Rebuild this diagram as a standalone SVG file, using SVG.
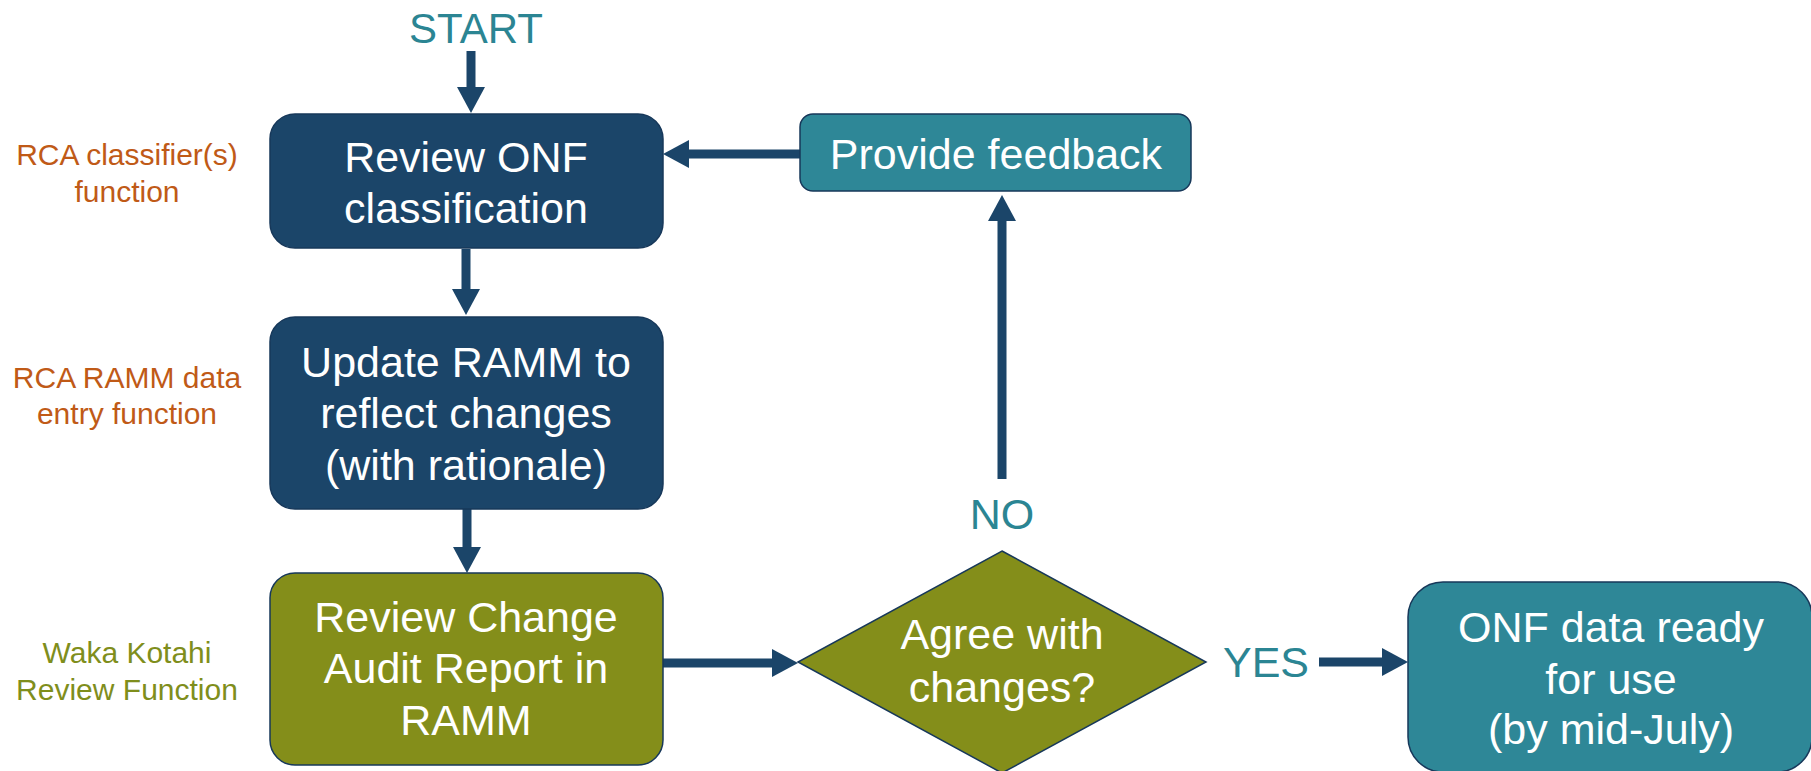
<svg xmlns="http://www.w3.org/2000/svg" width="1811" height="771" viewBox="0 0 1811 771">
<style>
text{font-family:"Liberation Sans",Arial,sans-serif}
.nt{font-size:43px;fill:#ffffff;text-anchor:middle}
.lbl{font-size:43px;fill:#2B8593;text-anchor:middle}
.side{font-size:30px;text-anchor:middle}
.orange{fill:#C05A17}
.green{fill:#7F8E1C}
.navy{fill:#1B4569;stroke:#17385A;stroke-width:1.5}
.olive{fill:#848E1A;stroke:#17385A;stroke-width:1.5}
.teal{fill:#2E8797;stroke:#17385A;stroke-width:1.5}
.conn line{stroke:#1B4569;stroke-width:9;marker-end:url(#ah)}
</style>
<defs>
<marker id="ah" markerUnits="userSpaceOnUse" markerWidth="27" markerHeight="28" refX="0" refY="14" orient="auto" overflow="visible">
<path d="M0,0 L26,14 L0,28 z" fill="#1B4569"/>
</marker>
</defs>
<rect width="1811" height="771" fill="#ffffff"/>

<g id="side-labels">
<text class="side orange" x="127" y="165">RCA classifier(s)</text>
<text class="side orange" x="127" y="202">function</text>
<text class="side orange" x="127" y="388">RCA RAMM data</text>
<text class="side orange" x="127" y="424">entry function</text>
<text class="side green" x="127" y="663">Waka Kotahi</text>
<text class="side green" x="127" y="700">Review Function</text>
</g>

<g id="start">
<text class="lbl" x="476" y="43" style="font-size:42px">START</text>
</g>

<g class="conn" id="connectors">
<line x1="471" y1="51" x2="471" y2="87"/>
<line x1="466" y1="249" x2="466" y2="289"/>
<line x1="467" y1="509" x2="467" y2="547"/>
<line x1="663" y1="663" x2="772" y2="663"/>
<line x1="1002" y1="479" x2="1002" y2="221"/>
<line x1="800" y1="154" x2="689" y2="154"/>
<line x1="1319" y1="662" x2="1382" y2="662"/>
</g>

<g id="review-onf">
<rect class="navy" x="270" y="114" width="393" height="134" rx="25"/>
<text class="nt" x="466" y="172">Review ONF</text>
<text class="nt" x="466" y="223">classification</text>
</g>

<g id="update-ramm">
<rect class="navy" x="270" y="317" width="393" height="192" rx="25"/>
<text class="nt" x="466" y="377">Update RAMM to</text>
<text class="nt" x="466" y="428">reflect changes</text>
<text class="nt" x="466" y="480">(with rationale)</text>
</g>

<g id="review-audit">
<rect class="olive" x="270" y="573" width="393" height="192" rx="25"/>
<text class="nt" x="466" y="632">Review Change</text>
<text class="nt" x="466" y="683">Audit Report in</text>
<text class="nt" x="466" y="735">RAMM</text>
</g>

<g id="provide-feedback">
<rect class="teal" x="800" y="114" width="391" height="77" rx="13"/>
<text class="nt" x="996" y="169">Provide feedback</text>
</g>

<g id="decision">
<polygon class="olive" points="1002,551 1206,662 1002,773 798,662"/>
<text class="nt" x="1002" y="649">Agree with</text>
<text class="nt" x="1002" y="702">changes?</text>
</g>

<g id="no-label">
<text class="lbl" x="1002" y="529">NO</text>
</g>
<g id="yes-label">
<text class="lbl" x="1266" y="677">YES</text>
</g>

<g id="onf-ready">
<rect class="teal" x="1408" y="582" width="404" height="190" rx="35"/>
<text class="nt" x="1611" y="642">ONF data ready</text>
<text class="nt" x="1611" y="694">for use</text>
<text class="nt" x="1611" y="744">(by mid-July)</text>
</g>
</svg>
